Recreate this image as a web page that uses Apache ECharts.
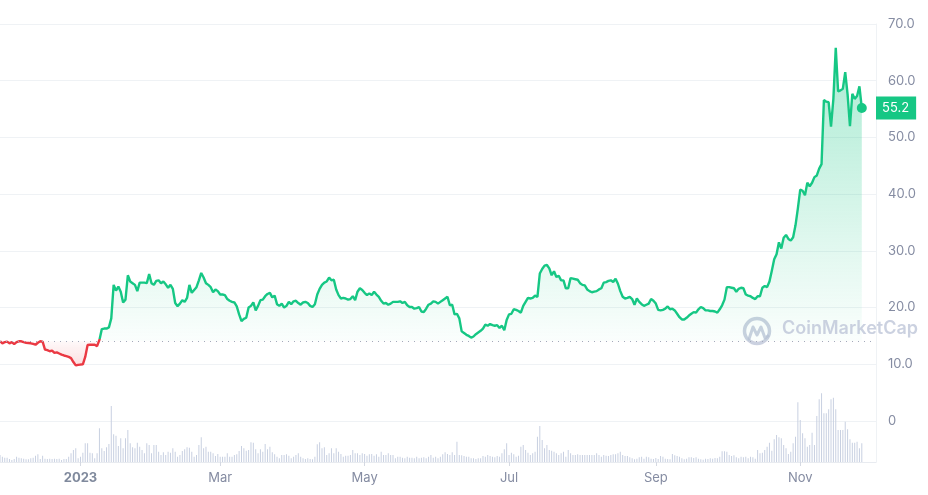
<!DOCTYPE html>
<html><head><meta charset="utf-8">
<script src="https://cdn.jsdelivr.net/npm/echarts@6/dist/echarts.min.js"></script>
<style>html,body{margin:0;padding:0;background:#fff}#c{width:928px;height:495px}</style>
</head><body><div id="c"></div>
<script>
// ---- data (daily, 2022-11-28 .. 2023-11-27) ----
const START_DATE = [2022, 10, 28];
const prices = [
14.06,13.7,13.9,14.0,13.7,13.9,13.55,13.9,14.06,14.06,
13.9,13.8,13.75,13.7,13.6,13.45,13.8,14.05,14.0,12.6,
12.5,12.3,12.4,12.0,12.1,11.9,11.7,11.55,11.45,11.3,
11.1,10.4,9.8,9.9,9.95,9.98,11.3,13.4,13.45,13.45,
13.45,13.2,14.3,16.2,16.3,16.3,16.5,18.1,24.0,23.0,
23.7,22.8,20.9,21.4,25.7,24.6,24.3,24.0,22.9,24.4,
24.4,24.4,24.3,25.9,24.3,24.0,24.7,24.8,24.3,24.6,
24.1,23.5,24.0,23.3,20.8,20.25,20.7,21.3,21.0,21.7,
24.0,22.6,23.1,23.6,24.8,26.1,25.3,24.3,24.0,23.6,
22.7,23.2,22.9,22.3,22.3,22.2,21.5,21.2,21.0,20.9,
20.2,18.8,17.6,18.0,18.2,20.0,20.3,20.9,19.5,20.3,
21.3,21.4,22.0,22.4,22.6,21.8,22.1,20.6,20.3,20.7,
20.0,20.3,21.0,20.6,21.1,21.2,20.8,20.5,20.9,21.0,
20.8,20.3,20.1,20.6,22.3,23.3,24.0,24.4,24.6,
25.3,24.8,24.9,23.2,22.2,21.6,21.7,21.6,21.4,21.5,
22.0,21.3,22.8,23.4,23.1,22.6,22.2,22.5,22.2,22.8,
22.3,21.9,21.2,20.7,20.8,20.5,20.7,21.0,21.0,21.0,
21.1,20.8,21.0,20.4,20.1,20.1,19.8,19.9,20.1,19.3,
19.2,19.8,20.5,20.7,21.1,21.0,20.7,21.0,21.3,21.6,
21.9,20.4,20.5,18.8,18.9,18.1,15.8,15.5,15.2,15.0,
14.7,14.9,15.3,15.6,15.9,16.3,17.0,16.8,17.1,16.9,
16.8,16.9,16.4,16.8,16.0,17.8,18.8,18.9,19.7,19.6,
19.4,19.1,20.3,21.0,21.7,21.6,21.7,22.1,21.9,26.0,
26.8,27.4,27.5,26.9,25.7,26.4,25.4,25.6,24.8,24.8,
23.4,23.4,25.2,25.1,25.0,24.9,24.3,24.0,23.9,23.2,
22.9,22.7,22.8,22.9,23.2,23.4,24.4,24.5,24.7,24.8,
24.5,25.1,24.2,22.9,21.9,21.6,21.7,21.9,21.5,20.5,
21.6,21.0,20.6,20.3,20.5,20.7,21.5,21.2,20.7,19.6,
19.5,19.6,19.8,20.2,19.7,19.8,19.5,18.9,18.3,17.9,
17.9,18.2,18.6,18.9,19.2,19.1,19.7,20.1,19.9,19.5,
19.5,19.4,19.4,19.3,19.1,19.7,20.4,21.4,23.6,
23.6,23.5,23.4,22.8,23.3,23.5,23.4,22.3,22.1,22.0,
21.7,21.5,22.0,22.0,23.5,23.8,23.6,24.6,26.5,28.5,
29.4,31.5,30.4,32.3,32.8,32.1,31.8,32.4,34.5,37.5,
40.8,40.6,39.8,42.0,41.4,42.0,43.0,43.3,44.5,45.3,
56.6,56.3,56.2,51.9,56.8,65.8,58.1,58.3,58.6,61.5,
57.6,52.0,57.7,56.8,57.3,59.0,55.2
];
// relative daily volume
const volumes = [
7,5.3,4.3,4.3,3,2,3,5.3,4.3,3.7,
3.3,2.7,2.7,3.7,4.3,6.3,7.7,3,6.3,3.3,
3,3.3,3,3.3,3,3.3,2,3,3,5.3,
8.7,12,13.7,3.7,5.3,9.3,18.7,18.7,9.3,8.7,
3.7,8.7,33.7,13.7,11,14.7,18,56,27.7,26.3,
16,23.7,13.7,23.7,32,18.7,14.7,13.7,19.3,15.3,
12,8.7,18.7,17,8.7,17,17,10.3,7,9.7,
7,10.3,9.3,13.7,10.3,5.3,7,11,12.7,14.7,
14.3,10.3,5.3,7,17,24.7,13.7,15.3,10.3,10.3,
8.7,6,8,5.3,5.3,5.3,8.7,5.3,5.3,7,
7.7,11,16,13.7,11.3,12,19.7,19.3,12.7,8.7,
12.7,10.3,18,12.7,15.3,9.7,7.7,5.3,3.7,7,
7,7.7,6.3,3.7,5.3,7,8.7,
5.3,3.7,3,3.7,3,2.7,5.3,17.7,19.7,13.7,
14.7,7,8.7,13.7,8.7,13.7,10.3,8,5.3,6.3,
6.3,7,12,8.7,8.7,7,8.7,8,6.3,7.7,
8,6.3,7.7,5.3,10.3,7,7,8.7,7,7,
3.7,5.3,5.3,4.3,3.7,5.3,4.3,4.3,
3.7,5.3,3.7,4.3,4.7,3.7,5.3,7,4.3,5.3,
3.7,5.3,7.7,9.7,8,7,9.7,7,20.3,7,
6.7,6,5.3,5.3,3.7,3.7,3,3.7,3.7,6,
5.3,7,6,5.3,4.7,6,5.3,8.7,12.7,18.7,
7,9.3,7.7,5.3,6.3,15.3,17,12,9.3,7,
8.7,10.3,25.3,36,22,13.7,17,12,11.3,10.3,
8.7,7,8.7,10.3,5.3,12,8.7,7,7,7.7,
7,7,7,7,7,7,7,8.7,7,5.3,
7,6.3,6,7,7.7,7.7,8.7,10.3,7,
6,6,4.7,3.7,2.7,3.3,
4.7,5.3,3.3,5.3,4.7,3.3,3,4,3,6,
5.3,3.3,3,2.7,8,6.7,6,5.3,3.7,2.7,
3.3,4.7,4.7,4,4.7,3.3,2.7,2.3,3.3,3,
3.7,3.3,4,3.7,5.3,10.7,10.7,10.3,7,6,
6.7,4.7,3.7,5.3,4.7,5.3,3.7,5.3,4.7,3.3,
12,8.7,9.3,12,15.3,19.3,11.3,22.7,27,24.7,
23.7,17,13.7,8,10.3,18.7,25.3,59.7,42,28.7,
23.7,15.3,17,29.3,17,46,62.7,68.7,48.7,48.7,
52.7,62.7,64.3,52.7,32,32,32,40.3,32.7,22.7,
19.3,19.3,20.3,13.7,18.7
];
const PRICE_TICKS = [0,10,20,30,40,50,60,70];
const X_TICK_DATES = [[2023,0,1],[2023,2,1],[2023,4,1],[2023,6,1],[2023,8,1],[2023,10,1]];
const X_TICK_LABELS = ['2023','Mar','May','Jul','Sep','Nov'];
const AXIS_SPAN_DAYS = 370;

// ---- build ----
const DAY = 86400000;
const GREEN = '#16c784', RED = '#ea3943';
const t0 = Date.UTC(START_DATE[0], START_DATE[1], START_DATE[2]);
// x = days since START_DATE
const priceData = prices.map((p, i) => [i, p]);
const volData = volumes.map((v, i) => [i, v]);
const base = prices[0];
const last = prices[prices.length - 1];
const lastX = prices.length - 1;
const maxP = Math.max(...prices), minP = Math.min(...prices);
const xTicks = X_TICK_DATES.map(d => Math.round((Date.UTC(d[0], d[1], d[2]) - t0) / DAY));

const chart = echarts.init(document.getElementById('c'), null, {renderer: 'canvas'});
const lineCol = '#eff2f5';
chart.setOption({
  animation: false,
  textStyle: {fontFamily: 'Inter, "Noto Sans", sans-serif'},
  grid: [
    {left: 0, right: 52, top: 24, bottom: 74},
    {left: 0, right: 52, bottom: 33, height: 80}
  ],
  xAxis: [
    {type: 'value', gridIndex: 0, min: 0, max: AXIS_SPAN_DAYS, show: false},
    {type: 'value', gridIndex: 1, min: 0, max: AXIS_SPAN_DAYS,
     axisLine: {show: true, onZero: false, lineStyle: {color: '#e8ebf0', width: 1}},
     axisTick: {show: true, length: 4, lineStyle: {color: '#d5d9e2'}, customValues: xTicks},
     splitLine: {show: false},
     axisLabel: {
       customValues: xTicks, margin: 10, fontSize: 13, color: '#858ca2',
       formatter: (v) => {
         const i = xTicks.indexOf(Math.round(v));
         const s = i >= 0 ? X_TICK_LABELS[i] : '';
         return i === 0 ? '{b|' + s + '}' : '{n|' + s + '}';
       },
       rich: {
         b: {fontWeight: 'bold', fontSize: 13, color: '#808a9d', fontFamily: 'Inter'},
         n: {fontSize: 13, color: '#858ca2', fontFamily: 'Inter'}
       }
     }}
  ],
  yAxis: [
    {type: 'value', gridIndex: 0, position: 'right',
     min: PRICE_TICKS[0], max: PRICE_TICKS[PRICE_TICKS.length - 1],
     interval: PRICE_TICKS[1] - PRICE_TICKS[0],
     axisLine: {show: true, onZero: false, lineStyle: {color: lineCol}},
     axisTick: {show: false},
     splitLine: {show: true, lineStyle: {color: lineCol, width: 1}},
     axisLabel: {margin: 12, fontSize: 13, color: '#858ca2',
       formatter: v => v === 0 ? '0' : v.toFixed(1)}},
    {type: 'value', gridIndex: 1, position: 'right', min: 0, max: 80,
     axisLine: {show: true, onZero: false, lineStyle: {color: lineCol}},
     axisTick: {show: false}, axisLabel: {show: false}, splitLine: {show: false}}
  ],
  series: [
    {
      id: 'price', type: 'line', xAxisIndex: 0, yAxisIndex: 0, data: priceData,
      showSymbol: false, symbol: 'none', z: 3,
      lineStyle: {width: 2.4, color: GREEN},
      areaStyle: {origin: base, opacity: 1, color: 'rgba(22,199,132,0.1)'},
      markLine: {
        silent: true, symbol: ['none', 'none'], animation: false,
        data: [
          {yAxis: base, lineStyle: {color: '#a3a9ba', type: [1, 5], width: 1.2}, label: {show: false}},
          {yAxis: last, lineStyle: {color: 'rgba(0,0,0,0)', width: 0},
           label: {show: true, position: 'end', distance: 0, formatter: last.toFixed(1),
             backgroundColor: GREEN, color: '#fff', padding: [5, 7, 5, 6], fontSize: 13,
             fontFamily: 'Inter'}}
        ]
      },
      markPoint: {
        symbol: 'circle', symbolSize: 10, silent: true, animation: false,
        itemStyle: {color: GREEN}, label: {show: false},
        data: [{coord: [lastX, last]}]
      }
    },
    {
      type: 'bar', xAxisIndex: 1, yAxisIndex: 1, data: volData,
      barWidth: 1, itemStyle: {color: '#c8d0e1'}, silent: true
    }
  ],
  graphic: [
    {type: 'group', left: 742, top: 316, silent: true, z: 100, children: [
      {type: 'circle', shape: {cx: 15, cy: 13, r: 12.5},
       style: {fill: 'none', stroke: 'rgba(185,193,213,0.75)', lineWidth: 3.5}},
      {type: 'polyline', shape: {points: [[7, 21], [11, 9], [15, 17], [19, 9], [23, 20], [26, 18]]},
       style: {fill: 'none', stroke: 'rgba(185,193,213,0.75)', lineWidth: 3, lineJoin: 'round', lineCap: 'round'}}
    ]},
    {type: 'text', left: 782, top: 320, silent: true, z: 100,
     style: {text: 'CoinMarketCap', fill: 'rgba(185,193,213,0.75)', fontSize: 18, fontWeight: 600,
       fontFamily: 'Inter'}}
  ]
});

// colour split at the opening price, in pixel space of the price axis
const yOf = v => chart.convertToPixel({yAxisIndex: 0}, v);
const yTop = yOf(maxP), yBot = yOf(minP), yBase = yOf(base);
const span = yBot - yTop;
const offArea = (yBase - yTop) / span;
const offLine = (yBase - 2 - yTop) / span;
const LG = echarts.graphic.LinearGradient;
chart.setOption({
  series: [{
    id: 'price',
    lineStyle: {color: new LG(0, yTop, 0, yBot, [
      {offset: 0, color: GREEN}, {offset: offLine, color: GREEN},
      {offset: offLine, color: RED}, {offset: 1, color: RED}
    ], true)},
    areaStyle: {color: new LG(0, yTop, 0, yBot, [
      {offset: 0, color: 'rgba(22,199,132,0.36)'},
      {offset: offArea, color: 'rgba(22,199,132,0.02)'},
      {offset: offArea, color: 'rgba(234,57,67,0.03)'},
      {offset: 1, color: 'rgba(234,57,67,0.16)'}
    ], true)}
  }]
});
</script></body></html>
